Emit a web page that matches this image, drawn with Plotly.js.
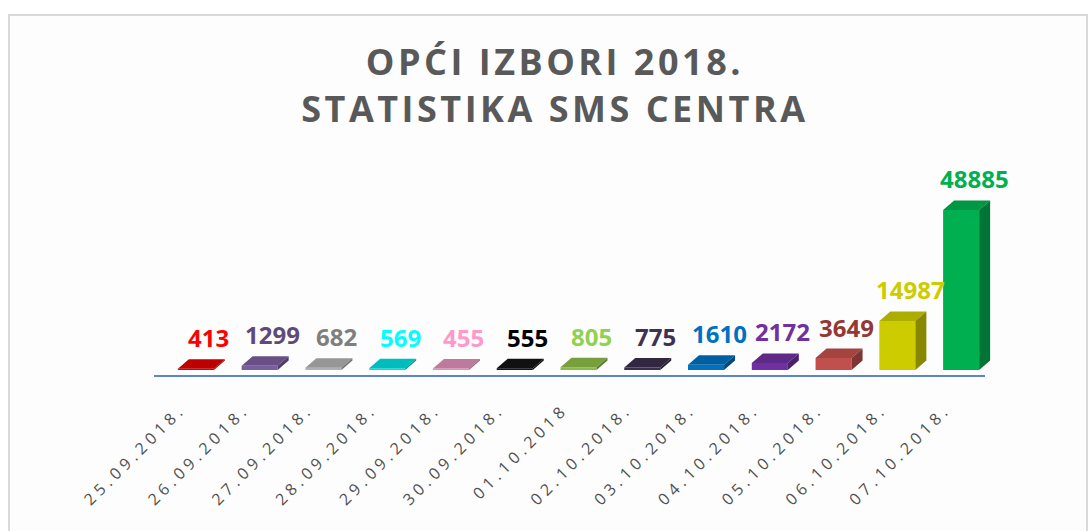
<!DOCTYPE html>
<html>
<head>
<meta charset="utf-8">
<script src="https://cdn.plot.ly/plotly-3.0.1.min.js"></script>
<style>
  html, body { margin: 0; padding: 0; background: #ffffff; }
  #chart { width: 1088px; height: 531px; }
  .gtitle { letter-spacing: 3.5px; }
  .xtick text { letter-spacing: 4.5px; }
</style>
</head>
<body>
<div id="chart"></div>
<script>
// ---- data ----
const dates = ['25.09.2018.', '26.09.2018.', '27.09.2018.', '28.09.2018.', '29.09.2018.', '30.09.2018.', '01.10.2018', '02.10.2018.', '03.10.2018.', '04.10.2018.', '05.10.2018.', '06.10.2018.', '07.10.2018.'];
const smsCounts = [413, 1299, 682, 569, 455, 555, 805, 775, 1610, 2172, 3649, 14987, 48885];
const labelColors = ['#ff0000', '#604a7b', '#7f7f7f', '#00ffff', '#ff99cc', '#000000', '#92d050', '#3f3151', '#0070c0', '#7030a0', '#953735', '#cccc00', '#00b050'];
const barColors = ['#e00000', '#7a5e9e', '#b0b0b0', '#00dede', '#e090b8', '#141414', '#8cbc48', '#3a2e4c', '#0070c0', '#7030a0', '#c0504d', '#cccc00', '#00b050'];

// ---- layout geometry ----
const W = 1088, H = 531;
const margin = {l: 164, r: 95, t: 130, b: 155, pad: 0};
const plotH = H - margin.t - margin.b;
const plotW = W - margin.l - margin.r;
const yRange = [-1833, 73320];
const unitsPerPx = (yRange[1] - yRange[0]) / plotH;
const catPx = plotW / dates.length;
const barW = 0.565;
const depthX = 11 / catPx;          // in category units
const depthY = 9.5 * unitsPerPx;    // in data units

function shade(hex, f) {
  const n = parseInt(hex.slice(1), 16);
  const r = Math.round(((n >> 16) & 255) * f);
  const g = Math.round(((n >> 8) & 255) * f);
  const b = Math.round((n & 255) * f);
  return 'rgb(' + r + ',' + g + ',' + b + ')';
}

const idx = dates.map((d, i) => i);
const traces = [];

// front faces
traces.push({
  type: 'bar', x: idx, y: smsCounts, width: barW,
  marker: {color: barColors, line: {width: 0}},
  hoverinfo: 'skip', showlegend: false
});

// top and side faces (pseudo 3-D)
smsCounts.forEach((v, i) => {
  const xl = i - barW / 2, xr = i + barW / 2;
  traces.push({
    type: 'scatter', mode: 'lines', fill: 'toself',
    x: [xl, xr, xr + depthX, xl + depthX, xl],
    y: [v, v, v + depthY, v + depthY, v],
    line: {width: 0, color: shade(barColors[i], 0.85)},
    fillcolor: shade(barColors[i], 0.85),
    hoverinfo: 'skip', showlegend: false
  });
  traces.push({
    type: 'scatter', mode: 'lines', fill: 'toself',
    x: [xr, xr + depthX, xr + depthX, xr, xr],
    y: [0, depthY, v + depthY, v, 0],
    line: {width: 0, color: shade(barColors[i], 0.66)},
    fillcolor: shade(barColors[i], 0.66),
    hoverinfo: 'skip', showlegend: false
  });
});

const annotations = smsCounts.map((v, i) => ({
  x: i, y: v + depthY, xref: 'x', yref: 'y',
  text: String(v), showarrow: false,
  xanchor: 'center', yanchor: 'bottom',
  xshift: 13, yshift: 3,
  font: {family: 'Open Sans', size: 24, weight: 'bold', color: labelColors[i]}
}));

const layout = {
  width: W, height: H,
  margin: margin,
  paper_bgcolor: '#ffffff',
  plot_bgcolor: 'rgba(0,0,0,0)',
  showlegend: false,
  title: {
    text: 'OPĆI IZBORI 2018.<br>STATISTIKA SMS CENTRA',
    x: 0.51, xref: 'container', xanchor: 'center',
    y: 0.858, yref: 'container', yanchor: 'top',
    font: {family: 'Open Sans', size: 36, weight: 'bold', color: '#595959'}
  },
  xaxis: {
    range: [-0.5, dates.length - 0.5],
    tickvals: idx, ticktext: dates, tickangle: -45,
    showgrid: false, zeroline: false, showline: false, ticks: '',
    ticklabelstandoff: 20, ticklabelshift: -15,
    tickfont: {family: 'Open Sans', size: 16, color: '#505050'},
    fixedrange: true
  },
  yaxis: {
    range: yRange, visible: false, showgrid: false, zeroline: false, fixedrange: true
  },
  annotations: annotations,
  shapes: [
    {type: 'rect', xref: 'paper', yref: 'paper', layer: 'below',
     x0: (9 - margin.l) / plotW, x1: (1087 - margin.l) / plotW,
     y0: (H - margin.b - 560) / plotH, y1: (H - margin.b - 15) / plotH,
     line: {color: '#d9d9d9', width: 2}, fillcolor: '#fdfdfd'},
    {type: 'line', xref: 'paper', yref: 'paper',
     x0: (154 - margin.l) / plotW, x1: (985 - margin.l) / plotW, y0: 0, y1: 0,
     line: {color: '#5b87c5', width: 2}}
  ]
};

Plotly.newPlot('chart', traces, layout, {displayModeBar: false, staticPlot: true});
</script>
</body>
</html>
